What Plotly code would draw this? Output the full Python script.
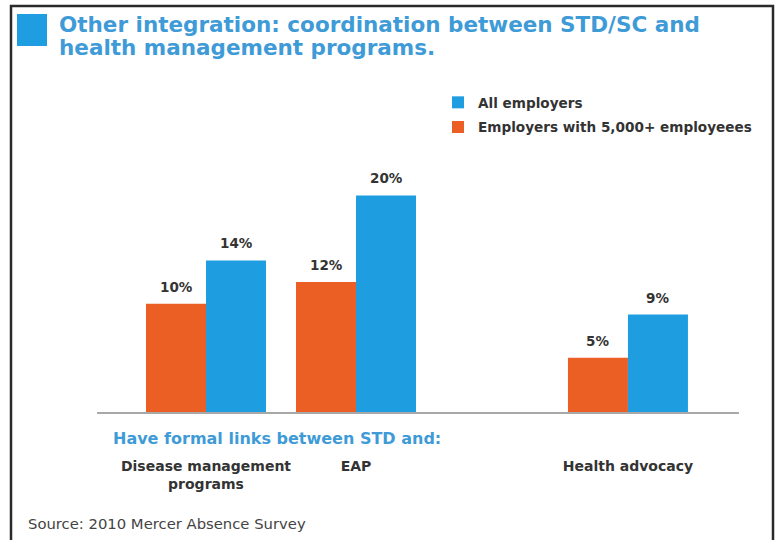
import plotly.graph_objects as go

# ---- data ----
categories = ["Disease management<br>programs", "EAP", "Health advocacy"]
large_employers = [10, 12, 5]      # Employers with 5,000+ employeees
all_employers = [14, 20, 9]        # All employers
series_names = ["Employers with 5,000+ employeees", "All employers"]

# ---- layout constants ----
W, H = 776, 540
ML, MR, MT, MB = 97, 37, 80, 128
PW, PH = W - ML - MR, H - MT - MB
PB = MT + PH
group_pos = [0, 1, 2.813]
bar_w = 0.4
FONT = "DejaVu Sans, sans-serif"
ORANGE = "#ec5f24"
BLUE = "#1e9de0"
TXT = "#333333"
TITLE_BLUE = "#3f9bd7"


def px_x(p):
    return (p - ML) / PW


def px_y(p):
    return (PB - p) / PH


fig = go.Figure()
fig.add_trace(go.Bar(
    x=group_pos, y=large_employers, name=series_names[0],
    width=bar_w, offset=-bar_w, marker=dict(color=ORANGE, line=dict(width=0)),
    legendgroup="g2", legendrank=2,
))
fig.add_trace(go.Bar(
    x=group_pos, y=all_employers, name=series_names[1],
    width=bar_w, offset=0, marker=dict(color=BLUE, line=dict(width=0)),
    legendgroup="g1", legendrank=1,
))

annotations = []
for xp, v in zip(group_pos, large_employers):
    annotations.append(dict(x=xp - bar_w / 2, y=v, xref="x", yref="y", text=f"{v}%",
                            showarrow=False, yanchor="bottom", yshift=7,
                            font=dict(family=FONT, size=13.5, color=TXT, weight="bold")))
for xp, v in zip(group_pos, all_employers):
    annotations.append(dict(x=xp + bar_w / 2, y=v, xref="x", yref="y", text=f"{v}%",
                            showarrow=False, yanchor="bottom", yshift=7,
                            font=dict(family=FONT, size=13.5, color=TXT, weight="bold")))

# title lines
annotations.append(dict(x=px_x(57), y=px_y(25), xref="paper", yref="paper",
                        xanchor="left", yanchor="middle", showarrow=False,
                        text="Other integration: coordination between STD/SC and",
                        font=dict(family=FONT, size=21.5, color=TITLE_BLUE, weight="bold")))
annotations.append(dict(x=px_x(57), y=px_y(48), xref="paper", yref="paper",
                        xanchor="left", yanchor="middle", showarrow=False,
                        text="health management programs.",
                        font=dict(family=FONT, size=21.5, color=TITLE_BLUE, weight="bold")))
annotations.append(dict(x=px_x(111), y=px_y(438), xref="paper", yref="paper",
                        xanchor="left", yanchor="middle", showarrow=False,
                        text="Have formal links between STD and:",
                        font=dict(family=FONT, size=16, color=TITLE_BLUE, weight="bold")))
annotations.append(dict(x=px_x(26), y=px_y(523), xref="paper", yref="paper",
                        xanchor="left", yanchor="middle", showarrow=False,
                        text="Source: 2010 Mercer Absence Survey",
                        font=dict(family=FONT, size=14.8, color="#444444")))

shapes = [
    dict(type="rect", xref="paper", yref="paper",
         x0=px_x(11), x1=px_x(773), y0=px_y(580), y1=px_y(6),
         line=dict(color="#2a2a2a", width=2.5), fillcolor="rgba(0,0,0,0)", layer="below"),
    dict(type="rect", xref="paper", yref="paper",
         x0=px_x(17), x1=px_x(47), y0=px_y(46), y1=px_y(14),
         line=dict(width=0), fillcolor=BLUE),
]

x_lo = group_pos[0] - (206 - ML) / 150
x_hi = group_pos[0] + (W - MR - 206) / 150

fig.update_layout(
    width=W, height=H,
    margin=dict(l=ML, r=MR, t=MT, b=MB, pad=0, autoexpand=False),
    paper_bgcolor="white", plot_bgcolor="white",
    barmode="overlay",
    showlegend=True,
    legend=dict(x=px_x(438), y=px_y(87), xanchor="left", yanchor="top",
                traceorder="grouped", tracegroupgap=4,
                font=dict(family=FONT, size=13.6, color=TXT, weight="bold"),
                bgcolor="rgba(0,0,0,0)", itemwidth=30),
    xaxis=dict(range=[x_lo, x_hi], tickvals=group_pos, ticktext=categories,
               showgrid=False, zeroline=False, showline=True, linecolor="#a8a8a8",
               linewidth=1.5, ticks="", ticklabelstandoff=40,
               tickfont=dict(family=FONT, size=14, color=TXT, weight="bold")),
    yaxis=dict(range=[0, PH / 10.83], visible=False, showgrid=False, zeroline=False),
    annotations=annotations,
    shapes=shapes,
)

fig.write_html("out.html")
